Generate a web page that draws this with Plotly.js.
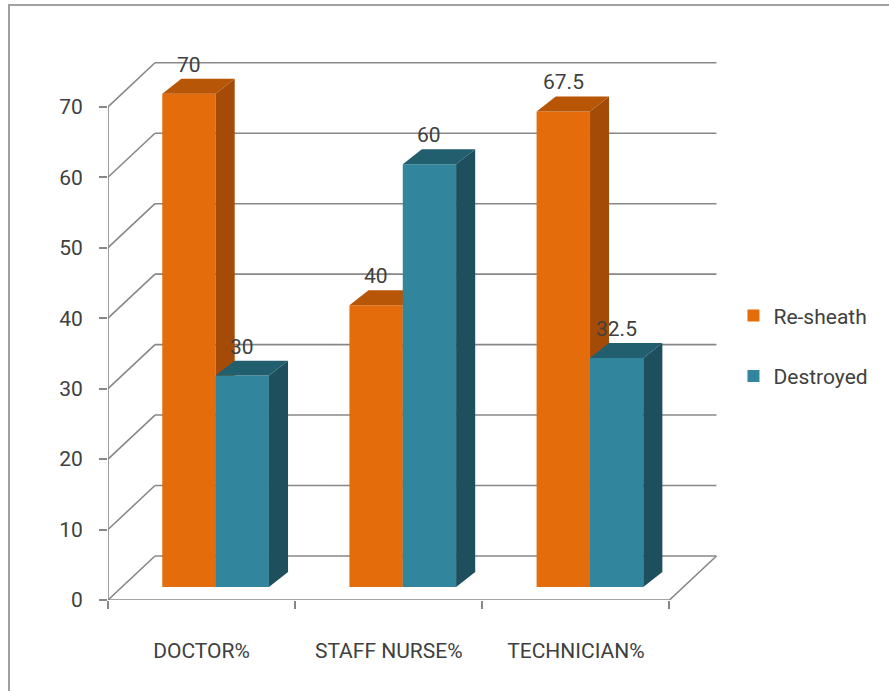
<!DOCTYPE html>
<html>
<head>
<meta charset="utf-8">
<script src="https://cdn.plot.ly/plotly-3.0.1.min.js"></script>
<style>
  html, body { margin: 0; padding: 0; background: #ffffff; }
  #wrap { position: relative; width: 889px; height: 691px; overflow: hidden; }
  #frame { position: absolute; left: 8px; top: 4px; width: 900px; height: 700px;
           border-left: 2px solid #a0a0a0; border-top: 2px solid #a0a0a0; pointer-events: none; }
  #chart { position: absolute; left: 0; top: 0; width: 889px; height: 691px; }
</style>
</head>
<body>
<div id="wrap">
  <div id="chart"></div>
  <div id="frame"></div>
</div>
<script>
// ---- data ----
const categories = ["DOCTOR%", "STAFF NURSE%", "TECHNICIAN%"];
const seriesNames = ["Re-sheath", "Destroyed"];
const resheath = [70, 40, 67.5];
const destroyed = [30, 60, 32.5];
const yTickVals = [0, 10, 20, 30, 40, 50, 60, 70];
const valueLabels = [["70", "40", "67.5"], ["30", "60", "32.5"]];

// ---- styling / geometry (pseudo-3D depth, in axis units) ----
const frontColors = ["#E46C0A", "#31859C"];
const topColors   = ["#B85608", "#215E6E"];
const sideColors  = ["#A44C07", "#1E4F5D"];
const wallDx = 0.251, wallDy = 6.25;     // back wall offset
const barDx1 = 0.080, barDy1 = 1.85;     // bar front plane offset
const barDx2 = 0.182, barDy2 = 3.97;     // bar back plane offset
const barWidth = 0.285;
const barOffsets = [-0.21, -0.21 + 0.285];
const xMin = -0.5, xMax = 2.77, xFrontEnd = 2.5;
const yMax = 76.5;
const gridColor = "#878787";
const textColor = "#404040";
const fontFam = 'Roboto, "Open Sans", sans-serif';

const xIdx = categories.map((c, i) => i);
const allSeries = [resheath, destroyed];

const traces = [];
allSeries.forEach((vals, s) => {
  const xa = s === 0 ? "x" : "x2";
  const ya = s === 0 ? "y" : "y2";
  // front faces as real bars
  traces.push({
    type: "bar", name: seriesNames[s], x: xIdx, y: vals,
    base: vals.map(() => barDy1),
    width: barWidth, offset: barOffsets[s],
    marker: { color: frontColors[s], line: { width: 0 } },
    xaxis: xa, yaxis: ya, hoverinfo: "name+text", text: vals.map(String), textposition: "none"
  });
  // top and side faces computed from values
  const topX = [], topY = [], sideX = [], sideY = [];
  const ddx = barDx2 - barDx1, ddy = barDy2 - barDy1;
  vals.forEach((v, i) => {
    const xl = i + barOffsets[s], xr = xl + barWidth;
    const yt = barDy1 + v, yb = barDy1;
    topX.push(xl, xr, xr + ddx, xl + ddx, xl, null);
    topY.push(yt, yt, yt + ddy, yt + ddy, yt, null);
    sideX.push(xr, xr, xr + ddx, xr + ddx, xr, null);
    sideY.push(yb, yt, yt + ddy, yb + ddy, yb, null);
  });
  traces.push({
    type: "scatter", mode: "lines", x: sideX, y: sideY, fill: "toself",
    fillcolor: sideColors[s], line: { width: 0, color: sideColors[s] },
    showlegend: false, hoverinfo: "skip", xaxis: xa, yaxis: ya
  });
  traces.push({
    type: "scatter", mode: "lines", x: topX, y: topY, fill: "toself",
    fillcolor: topColors[s], line: { width: 0, color: topColors[s] },
    showlegend: false, hoverinfo: "skip", xaxis: xa, yaxis: ya
  });
});

// ---- decorations: walls / floor / axis lines ----
const shapes = [];
const ln = (x0, y0, x1, y1) => ({ type: "line", xref: "x", yref: "y", x0, y0, x1, y1,
  layer: "below", line: { color: gridColor, width: 1.6 } });
yTickVals.forEach(v => {
  shapes.push(ln(xMin, v, xMin + wallDx, v + wallDy));
  shapes.push(ln(xMin + wallDx, v + wallDy, xFrontEnd + wallDx, v + wallDy));
});
shapes.push(ln(xMin, 0, xFrontEnd, 0));
shapes.push(ln(xFrontEnd, 0, xFrontEnd + wallDx, wallDy));
shapes.push(ln(xMin, 0, xMin, yTickVals[yTickVals.length - 1]));

// ---- value labels ----
const annotations = [];
allSeries.forEach((vals, s) => {
  vals.forEach((v, i) => {
    annotations.push({
      x: i + barOffsets[s] + barWidth / 2, y: barDy1 + v + (barDy2 - barDy1),
      xref: "x", yref: "y", text: valueLabels[s][i], showarrow: false,
      yanchor: "bottom", xanchor: "center", yshift: 0,
      font: { family: fontFam, size: 21, color: textColor }
    });
  });
});

const layout = {
  width: 889, height: 691,
  margin: { l: 108, r: 169, t: 61, b: 91, pad: 0 },
  paper_bgcolor: "rgba(0,0,0,0)", plot_bgcolor: "rgba(0,0,0,0)",
  barmode: "overlay",
  showlegend: true,
  legend: {
    x: 1.022, xanchor: "left", y: 0.565, yanchor: "top",
    traceorder: "grouped", tracegroupgap: 30,
    font: { family: fontFam, size: 21, color: textColor },
    bgcolor: "rgba(0,0,0,0)", itemwidth: 30
  },
  xaxis: {
    range: [xMin, xMax], showgrid: false, zeroline: false, showline: false,
    tickmode: "array", tickvals: xIdx, ticktext: categories, ticks: "",
    ticklabelstandoff: 36,
    tickfont: { family: fontFam, size: 21, color: textColor },
    minor: { tickmode: "array", tickvals: [-0.5, 0.5, 1.5, 2.5], ticks: "outside",
             ticklen: 8, tickcolor: gridColor, tickwidth: 1.6, showgrid: false },
    fixedrange: true
  },
  yaxis: {
    range: [0, yMax], showgrid: false, zeroline: false, showline: false,
    tickmode: "array", tickvals: yTickVals, ticks: "outside", ticklen: 8,
    tickcolor: gridColor, tickwidth: 1.6, ticklabelstandoff: 12,
    tickfont: { family: fontFam, size: 21, color: textColor },
    fixedrange: true
  },
  xaxis2: { overlaying: "x", range: [xMin, xMax], visible: false, fixedrange: true },
  yaxis2: { overlaying: "y", range: [0, yMax], visible: false, fixedrange: true },
  shapes, annotations
};
traces.forEach((t, k) => { t.legendgroup = "g" + k; });

Plotly.newPlot("chart", traces, layout, { displayModeBar: false, staticPlot: false });
</script>
</body>
</html>
